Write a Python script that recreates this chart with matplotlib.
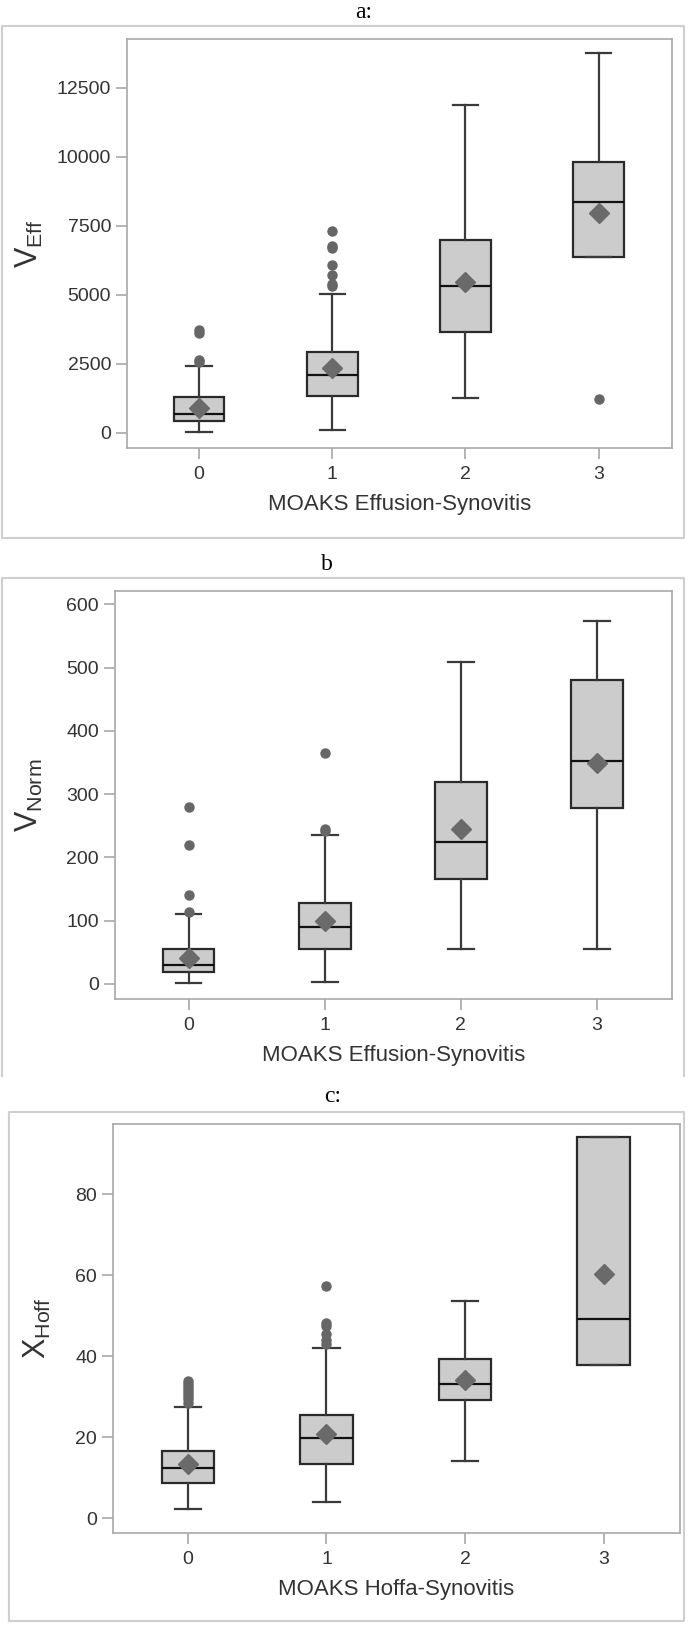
import matplotlib
matplotlib.use('Agg')
import matplotlib.pyplot as plt
from matplotlib.lines import Line2D

plt.rcParams['font.family'] = ['Liberation Sans', 'DejaVu Sans']
plt.rcParams['mathtext.default'] = 'regular'

grades = ['0', '1', '2', '3']

# panel a: V_Eff by MOAKS Effusion-Synovitis
eff_low = [20, 76, 1246, 6371]
eff_q1 = [420, 1335, 3662, 6371]
eff_med = [674, 2073, 5315, 8367]
eff_q3 = [1272, 2925, 6968, 9791]
eff_high = [2416, 5023, 11890, 13771]
eff_mean = [903, 2327, 5442, 7960]
eff_out = [[2550, 2620, 3620, 3720],
           [5300, 5400, 5700, 6080, 6680, 6780, 7300],
           [],
           [1221]]

# panel b: V_Norm by MOAKS Effusion-Synovitis
norm_low = [1, 3, 55, 55]
norm_q1 = [18.6, 55, 165, 278]
norm_med = [30, 90, 224, 353]
norm_q3 = [55, 128, 319, 481]
norm_high = [110, 235, 508, 574]
norm_mean = [41, 100, 244, 349]
norm_out = [[114, 140, 220, 280],
            [241, 244, 365],
            [],
            []]

# panel c: X_Hoff by MOAKS Hoffa-Synovitis
hoff_low = [2.2, 4.0, 14.2, 37.8]
hoff_q1 = [8.7, 13.4, 29.1, 37.8]
hoff_med = [12.5, 19.8, 33.1, 49.3]
hoff_q3 = [16.6, 25.4, 39.4, 94.0]
hoff_high = [27.5, 42.1, 53.6, 94.0]
hoff_mean = [13.3, 20.9, 34.1, 60.3]
hoff_out = [[28.5, 29.5, 30.2, 31.0, 31.8, 32.5, 33.2, 33.8],
            [43.0, 44.0, 45.5, 47.5, 48.2, 57.3],
            [],
            []]

W, H = 688, 1626
fig = plt.figure(figsize=(W / 100, H / 100), dpi=100)

frame_col = '#cfcfcf'
spine_col = '#a8a8a8'
text_col = '#333333'


def px_axes(x0, y0, x1, y1):
    return fig.add_axes([x0 / W, 1 - y1 / H, (x1 - x0) / W, (y1 - y0) / H])


def frame(x0, y0, x1, y1, bottom=True):
    xs = [x0 / W, x0 / W, x1 / W, x1 / W]
    ys = [1 - y1 / H, 1 - y0 / H, 1 - y0 / H, 1 - y1 / H]
    if bottom:
        xs.append(x0 / W)
        ys.append(1 - y1 / H)
    fig.add_artist(Line2D(xs, ys, color=frame_col, lw=1.5, transform=fig.transFigure))


def draw_panel(ax, low, q1, med, q3, high, mean, out, ylim, yticks, ylabel, xlabel, lab_x):
    stats = []
    for i in range(len(grades)):
        stats.append(dict(whislo=low[i], q1=q1[i], med=med[i], q3=q3[i],
                          whishi=high[i], mean=mean[i], fliers=out[i], label=grades[i]))
    ax.bxp(stats, positions=range(len(grades)), widths=0.38, capwidths=0.19,
           showmeans=True, patch_artist=True,
           boxprops=dict(facecolor='#cccccc', edgecolor='#2a2a2a', lw=1.6),
           medianprops=dict(color='#111111', lw=1.6),
           whiskerprops=dict(color='#3a3a3a', lw=1.6),
           capprops=dict(color='#3a3a3a', lw=1.6),
           meanprops=dict(marker='D', markerfacecolor='#6a6a6a', markeredgecolor='#6a6a6a', markersize=10),
           flierprops=dict(marker='o', markerfacecolor='#666666', markeredgecolor='#666666', markersize=6.5))
    ax.set_xlim(-0.54, 3.55)
    ax.set_ylim(*ylim)
    ax.set_yticks(yticks)
    for s in ax.spines.values():
        s.set_color(spine_col)
        s.set_linewidth(1.2)
    ax.tick_params(axis='both', colors=spine_col, labelcolor=text_col, labelsize=14, length=8, width=1.2)
    ax.tick_params(axis='x', pad=5)
    ax.set_ylabel(ylabel, fontsize=22, color=text_col)
    ax.yaxis.set_label_coords(lab_x, 0.5)
    ax.set_xlabel(xlabel, fontsize=16, color=text_col, labelpad=8)


# panel a
frame(2, 26, 684, 538)
fig.text(364 / W, 1 - 12 / H, 'a:', family='Liberation Serif', fontsize=17, ha='center', va='center')
ax1 = px_axes(127, 39, 672, 448)
draw_panel(ax1, eff_low, eff_q1, eff_med, eff_q3, eff_high, eff_mean, eff_out,
           (-560, 14265), [0, 2500, 5000, 7500, 10000, 12500],
           'V$_{Eff}$', 'MOAKS Effusion-Synovitis', -0.15)

# panel b
frame(2, 578, 684, 1076, bottom=False)
fig.text(327 / W, 1 - 564 / H, 'b', family='Liberation Serif', fontsize=17, ha='center', va='center')
ax2 = px_axes(115, 591, 672, 999)
draw_panel(ax2, norm_low, norm_q1, norm_med, norm_q3, norm_high, norm_mean, norm_out,
           (-24, 621), [0, 100, 200, 300, 400, 500, 600],
           'V$_{Norm}$', 'MOAKS Effusion-Synovitis', -0.125)

# panel c
frame(9, 1112, 684, 1621)
fig.text(333 / W, 1 - 1096 / H, 'c:', family='Liberation Serif', fontsize=17, ha='center', va='center')
ax3 = px_axes(113, 1124, 680, 1533)
draw_panel(ax3, hoff_low, hoff_q1, hoff_med, hoff_q3, hoff_high, hoff_mean, hoff_out,
           (-3.6, 97.3), [0, 20, 40, 60, 80],
           'X$_{Hoff}$', 'MOAKS Hoffa-Synovitis', -0.105)

fig.savefig('out.png', dpi=100)
